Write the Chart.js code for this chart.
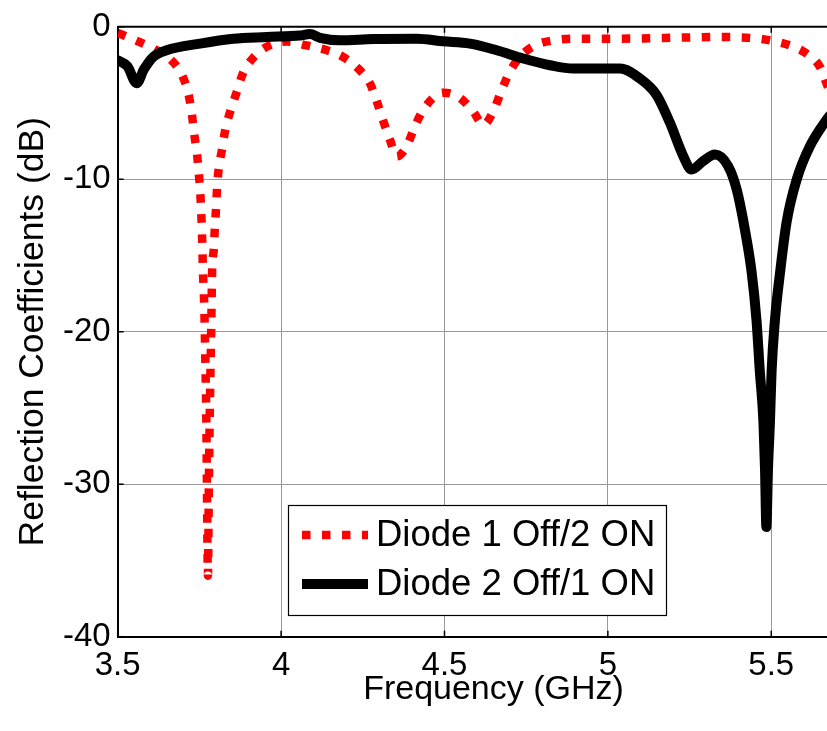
<!DOCTYPE html>
<html>
<head>
<meta charset="utf-8">
<script src="https://cdn.jsdelivr.net/npm/chart.js@4.4.0/dist/chart.umd.min.js"></script>
<style>
  html, body { margin: 0; padding: 0; background: #fff; overflow: hidden; }
  #wrap { width: 827px; height: 731px; overflow: hidden; position: relative; }
  canvas { display: block; }
</style>
</head>
<body>
<div id="wrap"><canvas id="c" width="880" height="731"></canvas></div>
<script>
// ---- Data ----
const seriesLabels = ['Diode 1 Off/2 ON', 'Diode 2 Off/1 ON'];

const freqRed = [3.50, 3.564, 3.61, 3.661, 3.697, 3.717, 3.727, 3.734, 3.743, 3.748, 3.753, 3.758, 3.761, 3.765, 3.768, 3.771, 3.773, 3.776, 3.779, 3.782, 3.786, 3.789, 3.794, 3.797, 3.801, 3.804, 3.809, 3.819, 3.829, 3.845, 3.865, 3.883, 3.916, 3.962, 4.018, 4.078, 4.14, 4.19, 4.236, 4.272, 4.293, 4.313, 4.333, 4.354, 4.384, 4.41, 4.435, 4.476, 4.496, 4.542, 4.588, 4.619, 4.649, 4.675, 4.70, 4.731, 4.777, 4.833, 4.894, 5.027, 5.20, 5.323, 5.45, 5.496, 5.557, 5.608, 5.649, 5.669, 5.68];
const s11Red  = [-0.4, -0.97, -1.43, -2.13, -3.18, -4.46, -5.73, -7.0, -8.4, -9.6, -11.0, -13.6, -16.1, -18.4, -21.7, -25.4, -30.0, -36.0, -30.0, -25.0, -20.0, -16.0, -14.6, -13.3, -11.9, -10.6, -9.3, -8.07, -6.78, -5.5, -4.23, -3.06, -2.0, -1.24, -0.97, -1.22, -1.54, -1.98, -2.74, -3.71, -4.9, -6.2, -7.4, -8.5, -7.84, -6.5, -5.45, -4.47, -4.32, -4.58, -5.56, -6.43, -5.56, -4.15, -2.95, -1.97, -1.22, -0.89, -0.78, -0.78, -0.72, -0.67, -0.75, -0.89, -1.22, -1.76, -2.63, -3.71, -4.3];

const freqBlack = [3.50, 3.53, 3.558, 3.58, 3.609, 3.65, 3.752, 3.854, 3.956, 4.058, 4.088, 4.119, 4.18, 4.282, 4.415, 4.496, 4.578, 4.66, 4.741, 4.823, 4.894, 4.976, 5.037, 5.098, 5.149, 5.19, 5.231, 5.256, 5.292, 5.328, 5.368, 5.394, 5.419, 5.44, 5.455, 5.465, 5.476, 5.481, 5.485, 5.49, 5.496, 5.501, 5.511, 5.527, 5.547, 5.578, 5.618, 5.669, 5.68];
const s11Black  = [-2.2, -2.6, -3.7, -2.8, -1.97, -1.54, -1.1, -0.78, -0.67, -0.57, -0.48, -0.72, -0.89, -0.8, -0.78, -0.95, -1.1, -1.54, -2.08, -2.52, -2.74, -2.74, -2.74, -3.39, -4.47, -6.3, -8.5, -9.36, -8.8, -8.38, -9.14, -10.66, -13.27, -16.1, -19.3, -22.6, -25.9, -29.1, -32.8, -29.0, -25.9, -22.6, -19.3, -16.1, -12.8, -10.0, -7.84, -6.1, -5.8];

const xTicks = [3.5, 4, 4.5, 5, 5.5];
const xTickLabels = ['3.5', '4', '4.5', '5', '5.5'];
const yTicks = [-40, -30, -20, -10, 0];
const yTickLabels = ['-40', '-30', '-20', '-10', '0'];

const xTitle = 'Frequency (GHz)';
const yTitle = 'Reflection Coefficients (dB)';

// ---- Chart ----
const FONT = '"Liberation Sans", Arial, Helvetica, sans-serif';

function toPoints(xs, ys) { return xs.map((x, i) => ({ x: x, y: ys[i] })); }

const frameAndLegend = {
  id: 'frameAndLegend',
  afterDraw(chart) {
    const ctx = chart.ctx;
    const a = chart.chartArea;
    const xs = chart.scales.x, ys = chart.scales.y;
    ctx.save();
    // top frame line
    ctx.strokeStyle = '#000';
    ctx.lineWidth = 2;
    ctx.beginPath();
    ctx.moveTo(a.left, a.top);
    ctx.lineTo(a.right + 2, a.top);
    ctx.stroke();
    // inward tick marks
    ctx.lineWidth = 1.5;
    xTicks.forEach(v => {
      const px = xs.getPixelForValue(v);
      ctx.beginPath(); ctx.moveTo(px, a.bottom); ctx.lineTo(px, a.bottom - 6); ctx.stroke();
      ctx.beginPath(); ctx.moveTo(px, a.top); ctx.lineTo(px, a.top + 6); ctx.stroke();
    });
    yTicks.forEach(v => {
      const py = ys.getPixelForValue(v);
      ctx.beginPath(); ctx.moveTo(a.left, py); ctx.lineTo(a.left + 6, py); ctx.stroke();
    });

    // legend box
    const bx = 288, by = 505, bw = 378, bh = 110;
    ctx.fillStyle = '#fff';
    ctx.fillRect(bx, by, bw, bh);
    ctx.strokeStyle = '#000';
    ctx.lineWidth = 1.2;
    ctx.strokeRect(bx + 0.5, by + 0.5, bw, bh);
    const rows = [535, 584];
    chart.data.datasets.forEach((ds, i) => {
      const y = rows[i];
      ctx.save();
      ctx.strokeStyle = ds.borderColor;
      ctx.lineWidth = ds.borderWidth;
      ctx.lineCap = 'butt';
      ctx.setLineDash(ds.borderDash || []);
      ctx.beginPath();
      ctx.moveTo(302, y);
      ctx.lineTo(368, y);
      ctx.stroke();
      ctx.restore();
      ctx.fillStyle = '#000';
      ctx.font = '36.5px ' + FONT;
      ctx.textBaseline = 'middle';
      ctx.textAlign = 'left';
      ctx.fillText(ds.label, 376, y + 1);
    });
    ctx.restore();
  }
};

new Chart(document.getElementById('c'), {
  type: 'line',
  data: {
    datasets: [
      {
        label: seriesLabels[0],
        data: toPoints(freqRed, s11Red),
        borderColor: '#ff0000',
        borderWidth: 8.5,
        borderDash: [8.5, 11.5],
        borderCapStyle: 'butt',
        pointRadius: 0,
        fill: false,
        cubicInterpolationMode: 'monotone',
        order: 2
      },
      {
        label: seriesLabels[1],
        data: toPoints(freqBlack, s11Black),
        borderColor: '#000000',
        borderWidth: 10,
        borderCapStyle: 'round',
        borderJoinStyle: 'round',
        pointRadius: 0,
        fill: false,
        cubicInterpolationMode: 'monotone',
        order: 1
      }
    ]
  },
  options: {
    responsive: false,
    animation: false,
    events: [],
    layout: { padding: { left: 0, right: 10.7, top: 23, bottom: 0 } },
    plugins: { legend: { display: false }, tooltip: { enabled: false } },
    scales: {
      x: {
        type: 'linear',
        min: 3.5,
        max: 5.8,
        afterFit(s) { s.height = 94.3; },
        afterBuildTicks(s) { s.ticks = xTicks.map(v => ({ value: v })); },
        ticks: {
          padding: 9,
          color: '#000',
          font: { family: FONT, size: 33 },
          maxRotation: 0,
          autoSkip: false,
          callback: (v) => { const i = xTicks.indexOf(v); return i >= 0 ? xTickLabels[i] : ''; }
        },
        grid: { color: '#9a9a9a', lineWidth: 1, drawTicks: false },
        border: { display: true, color: '#000', width: 2 },
        title: { display: true, text: xTitle, color: '#000', font: { family: FONT, size: 34 }, padding: { top: 0, bottom: 21 } }
      },
      y: {
        type: 'linear',
        min: -40,
        max: 0,
        afterFit(s) { s.width = 117.7; },
        afterBuildTicks(s) { s.ticks = yTicks.map(v => ({ value: v })); },
        ticks: {
          padding: 7,
          color: '#000',
          font: { family: FONT, size: 33 },
          autoSkip: false,
          callback: (v) => { const i = yTicks.indexOf(v); return i >= 0 ? yTickLabels[i] : ''; }
        },
        grid: { color: '#9a9a9a', lineWidth: 1, drawTicks: false },
        border: { display: true, color: '#000', width: 2 },
        title: { display: true, text: yTitle, color: '#000', font: { family: FONT, size: 35.5 }, padding: { top: 12, bottom: 0 } }
      }
    }
  },
  plugins: [frameAndLegend]
});
</script>
</body>
</html>
